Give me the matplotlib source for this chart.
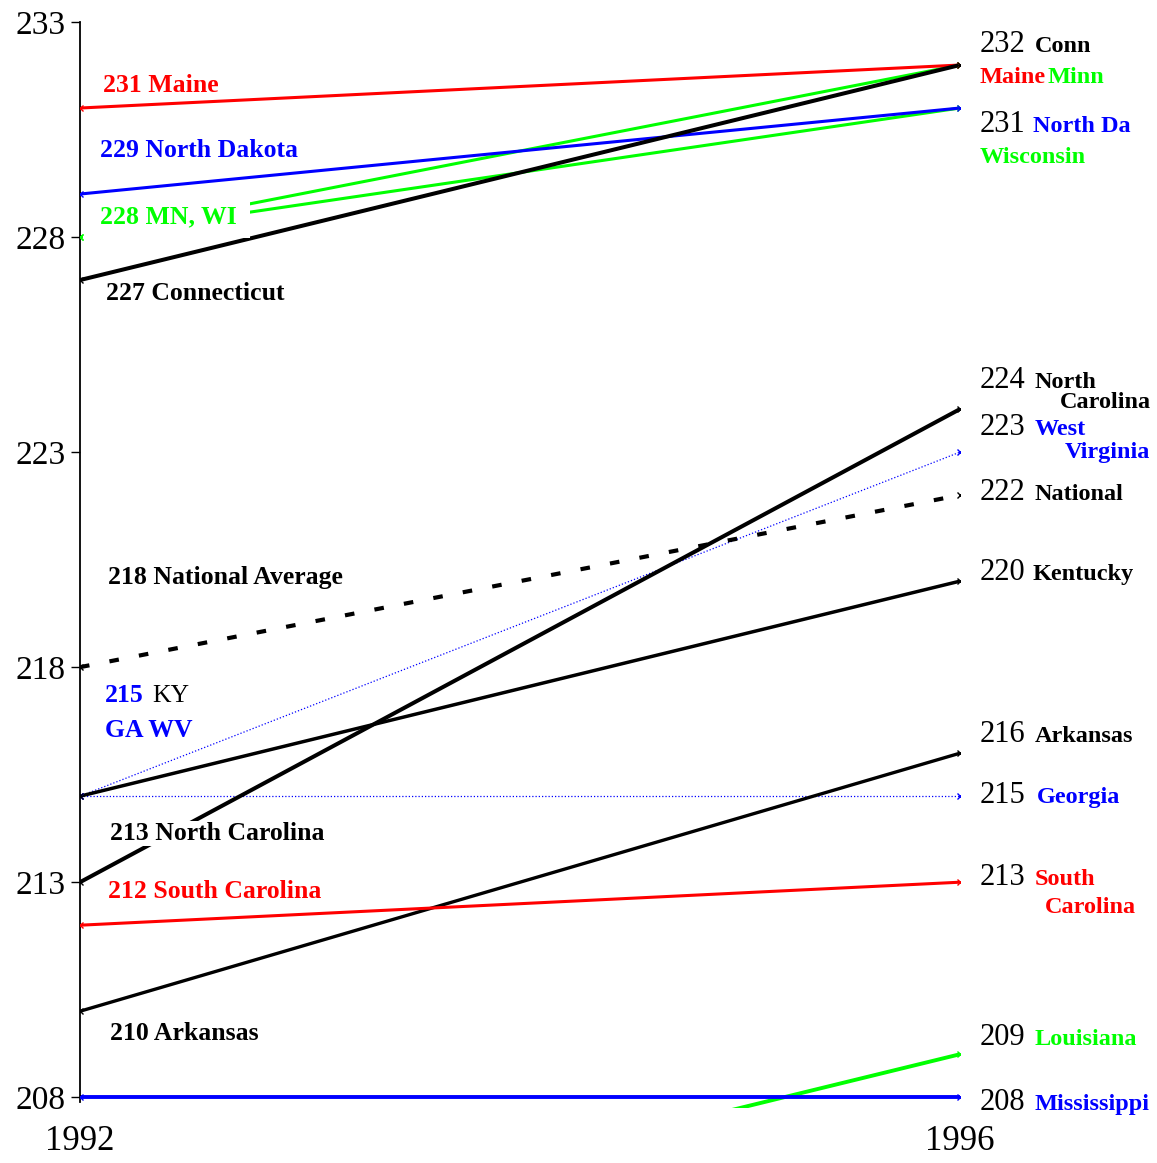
import matplotlib
matplotlib.use("Agg")
import matplotlib.pyplot as plt
from matplotlib.patches import Rectangle

# ---------------- data ----------------
years = [1992, 1996]
states = ["Minnesota", "Wisconsin", "Maine", "North Dakota", "Connecticut",
          "West Virginia", "Georgia", "National", "Kentucky", "North Carolina",
          "Arkansas", "South Carolina", "Louisiana", "Mississippi"]
score_1992 = [228, 228, 231, 229, 227, 215, 215, 218, 215, 213, 210, 212, 204, 208]
score_1996 = [232, 231, 232, 231, 232, 223, 215, 222, 220, 224, 216, 213, 209, 208]
yticks = [208, 213, 218, 223, 228, 233]
xtick_labels = ["1992", "1996"]

# ---------------- styles ----------------
GREEN = "#00ff00"
style = {
    "Minnesota":      dict(color=GREEN, lw=2.2, ls="-"),
    "Wisconsin":      dict(color=GREEN, lw=2.2, ls="-"),
    "Maine":          dict(color="red", lw=2.2, ls="-"),
    "North Dakota":   dict(color="blue", lw=2.2, ls="-"),
    "Connecticut":    dict(color="black", lw=2.9, ls="-"),
    "West Virginia":  dict(color="blue", lw=0.9, ls=(0, (1, 1.6))),
    "Georgia":        dict(color="blue", lw=0.9, ls=(0, (1, 1.6))),
    "National":       dict(color="black", lw=3.0, ls=(0, (2.3, 4.9))),
    "Kentucky":       dict(color="black", lw=2.5, ls="-"),
    "North Carolina": dict(color="black", lw=2.9, ls="-"),
    "Arkansas":       dict(color="black", lw=2.4, ls="-"),
    "South Carolina": dict(color="red", lw=2.2, ls="-"),
    "Louisiana":      dict(color=GREEN, lw=2.8, ls="-"),
    "Mississippi":    dict(color="blue", lw=2.8, ls="-"),
}

plt.rcParams["font.family"] = ["Liberation Serif", "DejaVu Serif"]

W, H = 1157, 1163
fig = plt.figure(figsize=(W / 100, H / 100), dpi=100)
fig.patch.set_facecolor("white")

# axes: x 1992 -> px 80, 1996 -> px 960 ; y 233 -> px 22, 207.75 -> px 1108
ax = fig.add_axes([80 / W, 1 - 1108 / H, 880 / W, (1108 - 22) / H])
ax.set_xlim(1992, 1996)
ax.set_ylim(207.75, 233)

for name, a, b in zip(states, score_1992, score_1996):
    st = style[name]
    ax.plot(years, [a, b], color=st["color"], lw=st["lw"], ls=st["ls"],
            solid_capstyle="butt", dash_capstyle="butt", zorder=2)
    ax.plot(years, [a, b], ls="none", marker="x", ms=4, mew=1,
            color=st["color"], zorder=6)

# white mask hiding the MN/WI lines behind their label (as in original)
ax.add_patch(Rectangle((83 / W, 1 - 238 / H), (250 - 83) / W, 39 / H,
                       transform=fig.transFigure, fc="white", ec="none",
                       zorder=3))

# axes styling
for s in ["top", "right", "bottom"]:
    ax.spines[s].set_visible(False)
ax.spines["left"].set_bounds(207.9, 233)
ax.spines["left"].set_linewidth(1.3)
ax.set_yticks(yticks)
ax.set_yticklabels([str(t) for t in yticks], fontsize=24)
ax.tick_params(axis="y", length=6.5, width=1, pad=4)
ax.set_xticks(years)
ax.set_xticklabels(xtick_labels, fontsize=25)
ax.tick_params(axis="x", length=0, pad=12)
ax.set_facecolor("none")


def ftext(px, py, s, size=18, color="black", weight="bold", **kw):
    return fig.text(px / W, 1 - py / H, s, ha="left", va="baseline",
                    fontsize=size, color=color, fontweight=weight, **kw)


d92 = dict(zip(states, score_1992))
d96 = dict(zip(states, score_1996))

# ---------------- left labels ----------------
LS = 18.5
ftext(103, 92, f"{d92['Maine']} Maine", LS, "red")
ftext(100, 157, f"{d92['North Dakota']} North Dakota", LS, "blue")
ftext(100, 223, f"{d92['Minnesota']} MN, WI", LS, GREEN)
ftext(106, 300, f"{d92['Connecticut']} Connecticut", LS)
ftext(108, 584, f"{d92['National']} National Average", LS)
ftext(105, 702, f"{d92['Kentucky']}", LS, "blue")
ftext(152, 702, "KY", LS, "black", weight="normal")
ftext(105, 737, "GA WV", LS, "blue")
ftext(110, 840, f"{d92['North Carolina']} North Carolina", LS,
      bbox=dict(fc="white", ec="none", pad=0.5), zorder=5)
ftext(108, 898, f"{d92['South Carolina']} South Carolina", LS, "red")
ftext(110, 1040, f"{d92['Arkansas']} Arkansas", LS)

# ---------------- right labels ----------------
NS = 22   # number size
RS = 17.5   # name size
NX = 980


def rnum(py, v):
    ftext(NX, py, f"{v}", NS, weight="normal")


rnum(52, d96["Connecticut"]);  ftext(1035, 52, "Conn", RS)
ftext(980, 83, "Maine", RS, "red"); ftext(1048, 83, "Minn", RS, GREEN)
rnum(132, d96["North Dakota"]); ftext(1033, 132, "North Da", RS, "blue")
ftext(980, 163, "Wisconsin", RS, GREEN)
rnum(388, d96["North Carolina"]); ftext(1035, 388, "North", RS)
ftext(1060, 408, "Carolina", RS)
rnum(435, d96["West Virginia"]); ftext(1035, 435, "West", RS, "blue")
ftext(1065, 458, "Virginia", RS, "blue")
rnum(500, d96["National"]); ftext(1035, 500, "National", RS)
rnum(580, d96["Kentucky"]); ftext(1033, 580, "Kentucky", RS)
rnum(742, d96["Arkansas"]); ftext(1035, 742, "Arkansas", RS)
rnum(803, d96["Georgia"]); ftext(1037, 803, "Georgia", RS, "blue")
rnum(885, d96["South Carolina"]); ftext(1035, 885, "South", RS, "red")
ftext(1045, 913, "Carolina", RS, "red")
rnum(1045, d96["Louisiana"]); ftext(1035, 1045, "Louisiana", RS, GREEN)
rnum(1110, d96["Mississippi"]); ftext(1035, 1110, "Mississippi", RS, "blue")

fig.savefig("out.png", dpi=100, facecolor="white")
